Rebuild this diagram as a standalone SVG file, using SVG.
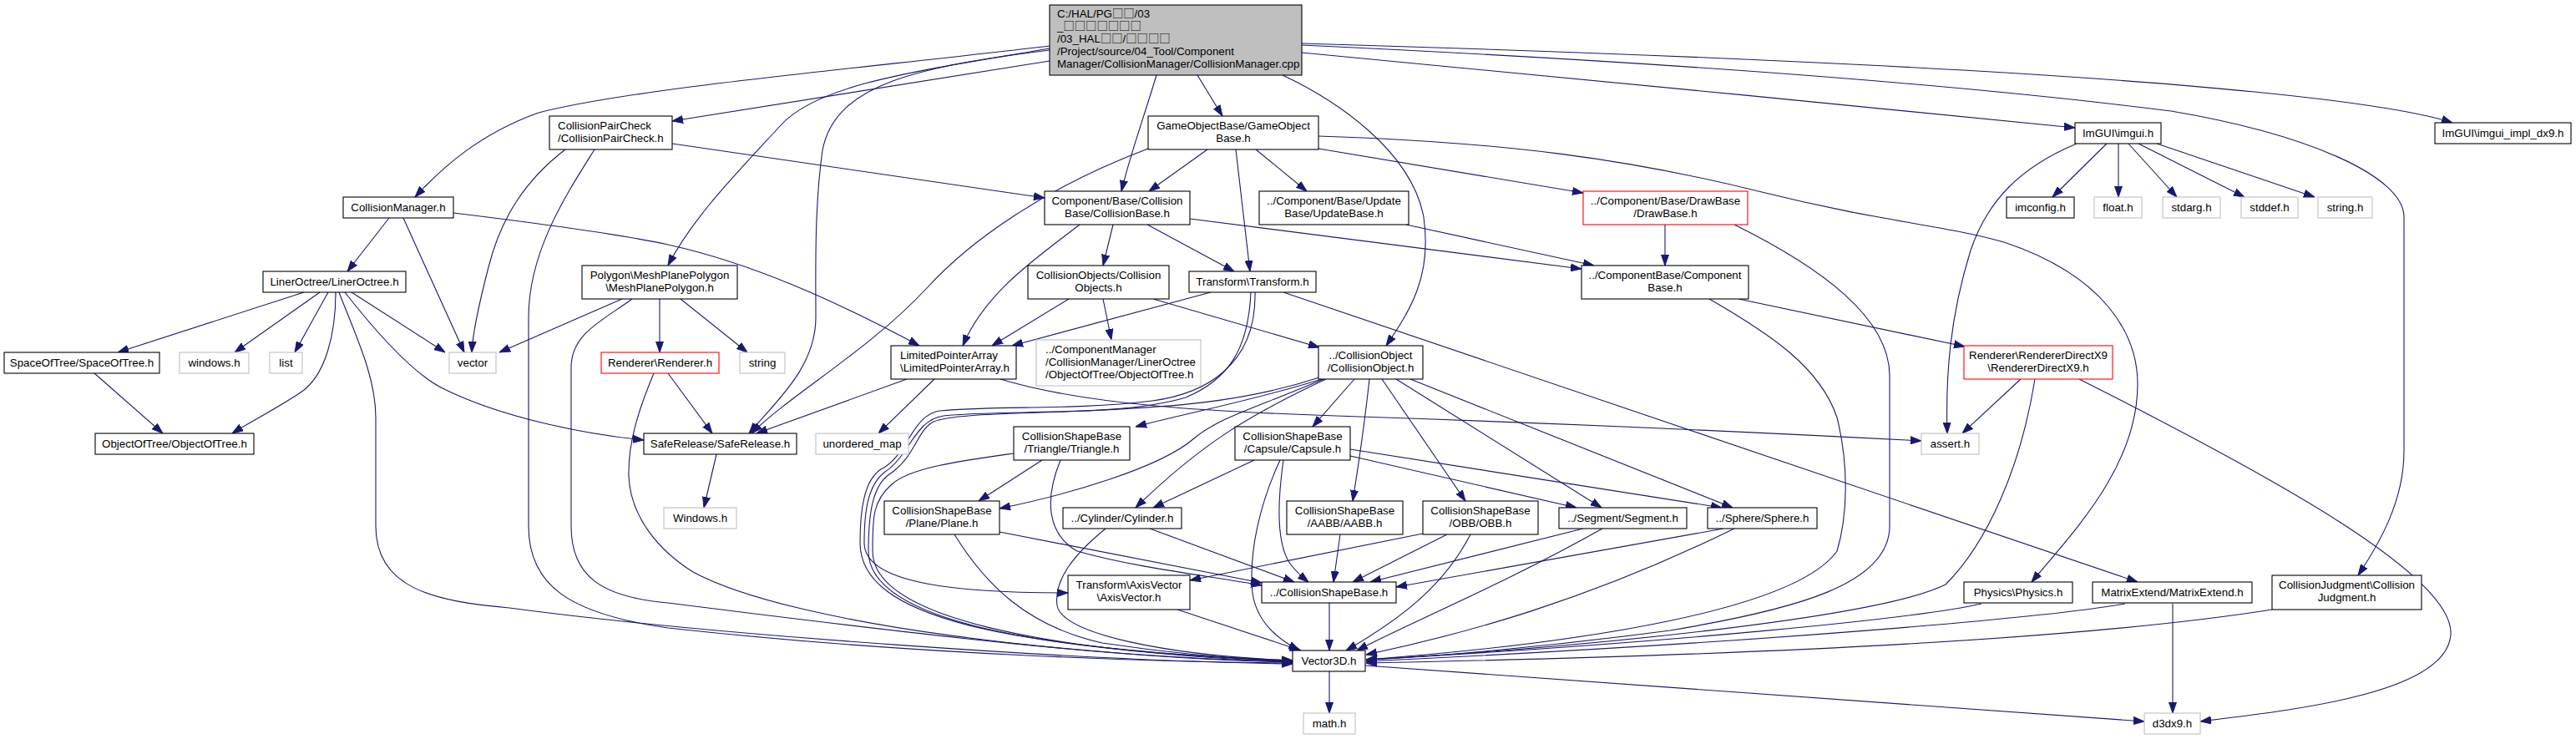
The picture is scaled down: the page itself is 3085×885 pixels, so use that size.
<svg xmlns="http://www.w3.org/2000/svg" width="3085" height="885" viewBox="0 0 3085 885">
<defs>
<style>
.nd rect{fill:#fff;stroke:#000;stroke-width:1.1}
.nd.gr rect{stroke:#bfbfbf}
.nd.rd rect{stroke:#ff0000}
.nd.rt rect{fill:#bfbfbf}
text{font-family:"Liberation Sans",Arial,"Noto Sans CJK JP",sans-serif;font-size:13.33px;fill:#000}
.c{text-anchor:middle}
.t{font-family:"Noto Sans CJK JP",sans-serif}
.e path{fill:none;stroke:#191970;stroke-width:1.1;marker-end:url(#ah)}
</style>
<marker id="ah" viewBox="0 0 13 10" refX="13" refY="5" markerWidth="13" markerHeight="10" markerUnits="userSpaceOnUse" orient="auto"><path d="M0,0.5 L13,5 L0,9.5 z" fill="#191970" stroke="#191970" stroke-width="1"/></marker>
</defs>
<rect width="3085" height="885" fill="#fff"/>
<g id="edges" class="e">
<path d="M1257,55 C1050,80 760,105 645,135 C575,160 530,200 497,236"/>
<path d="M1257,73 L805,145"/>
<path d="M1257,58 C1100,85 980,100 935,150 C880,210 830,260 800,318"/>
<path d="M1257,60 C1100,80 1000,100 985,180 C975,250 977,330 977,380 C977,440 930,480 897,519"/>
<path d="M1385,90 C1370,140 1352,190 1343,229"/>
<path d="M1434,90 L1464,139"/>
<path d="M1536,90 C1600,120 1690,180 1705,260 C1715,330 1690,370 1660,414"/>
<path d="M1559,63 C1800,85 2200,125 2485,153"/>
<path d="M1559,52 C1900,62 2400,80 2700,110 C2820,122 2900,135 2937,147"/>
<path d="M1559,54 C1900,70 2300,95 2600,133 C2760,160 2879,210 2879,260 L2879,540 C2879,600 2850,650 2824,689"/>
<path d="M805,172 L1251,237"/>
<path d="M677,179 C630,215 600,260 585,320 C572,370 566,400 565,422"/>
<path d="M712,179 C680,230 633,300 633,380 L633,630 C633,700 680,735 800,752 C1100,785 1400,793 1548,794"/>
<path d="M466,261 L416,325"/>
<path d="M483,261 L556,422"/>
<path d="M543,255 C650,268 740,280 800,293 C900,315 1000,360 1101,414"/>
<path d="M364,350 L141,422"/>
<path d="M383,350 L281,422"/>
<path d="M393,350 L353,422"/>
<path d="M402,350 C402,400 390,450 360,470 C330,490 300,505 278,519"/>
<path d="M406,350 C425,400 450,450 450,500 L450,630 C450,705 520,720 610,728 C850,760 1300,792 1548,795"/>
<path d="M413,350 C460,410 500,450 530,465 C600,500 700,520 771,527"/>
<path d="M421,350 L533,422"/>
<path d="M113,447 L195,519"/>
<path d="M745,358 L598,422"/>
<path d="M757,358 C720,385 684,400 684,440 L684,630 C684,690 720,715 800,722 C1100,760 1350,790 1548,793"/>
<path d="M790,358 L790,422"/>
<path d="M815,358 L895,422"/>
<path d="M800,447 L853,519"/>
<path d="M783,447 C765,490 752,530 753,570 C755,620 790,660 830,685 C950,750 1300,788 1548,792"/>
<path d="M858,544 L843,608"/>
<path d="M1086,454 L906,519"/>
<path d="M1119,454 L1052,519"/>
<path d="M1198,454 C1300,485 1450,493 1600,498 C1900,508 2150,520 2301,528"/>
<path d="M1375,178 C1250,225 1160,290 1110,345 C1040,420 950,470 900,519"/>
<path d="M1446,179 L1376,229"/>
<path d="M1480,179 L1497,325"/>
<path d="M1504,179 L1565,229"/>
<path d="M1579,178 L1896,231"/>
<path d="M1579,163 C1800,170 1950,190 2110,230 C2250,265 2330,270 2400,290 C2520,330 2560,400 2560,460 C2560,560 2480,640 2433,697"/>
<path d="M1293,269 C1240,310 1180,350 1153,414"/>
<path d="M1333,269 L1321,318"/>
<path d="M1374,269 L1478,325"/>
<path d="M1425,262 L1894,322"/>
<path d="M1280,358 L1188,414"/>
<path d="M1321,358 L1331,407"/>
<path d="M1381,358 L1580,416"/>
<path d="M1450,350 L1212,414"/>
<path d="M1537,350 L2560,697"/>
<path d="M1498,350 C1495,420 1470,455 1420,476 C1340,500 1200,490 1130,498 C1095,503 1090,545 1060,565 C1040,580 1035,610 1035,650 C1035,700 1150,710 1279,710"/>
<path d="M1503,350 C1505,440 1440,472 1380,480 C1280,492 1200,485 1125,492 C1092,497 1088,545 1055,562 C1035,575 1030,610 1030,650 C1030,740 1200,775 1548,792"/>
<path d="M1580,452 C1480,485 1380,488 1300,492 C1200,496 1140,496 1118,505 C1098,515 1096,548 1065,568 C1045,582 1040,615 1040,660 C1040,745 1250,780 1548,791"/>
<path d="M1583,454 C1500,480 1420,495 1360,511"/>
<path d="M1585,454 C1500,490 1460,500 1430,525 C1390,560 1280,592 1197,609"/>
<path d="M1588,454 C1500,495 1440,530 1360,608"/>
<path d="M1622,454 L1572,511"/>
<path d="M1640,454 C1635,500 1628,550 1620,600"/>
<path d="M1655,454 L1755,600"/>
<path d="M1672,454 L1918,608"/>
<path d="M1689,454 L2075,608"/>
<path d="M1248,551 L1172,600"/>
<path d="M1270,551 C1250,600 1255,640 1290,660 C1360,680 1450,690 1511,701"/>
<path d="M1214,543 C1150,552 1090,560 1068,580 C1045,600 1045,620 1045,660 C1045,740 1250,780 1548,793"/>
<path d="M1197,637 L1511,698"/>
<path d="M1143,640 C1180,700 1230,750 1320,770 C1420,785 1500,790 1548,792"/>
<path d="M1377,633 L1550,697"/>
<path d="M1324,633 C1285,665 1262,695 1266,725 C1272,760 1400,785 1548,791"/>
<path d="M1502,551 L1381,608"/>
<path d="M1533,551 C1510,600 1495,660 1500,710 C1505,745 1530,765 1556,779"/>
<path d="M1537,551 C1530,600 1528,650 1545,675 C1555,688 1562,693 1567,697"/>
<path d="M1617,546 L1888,608"/>
<path d="M1617,538 L2062,608"/>
<path d="M1605,640 L1597,697"/>
<path d="M1704,639 L1425,695"/>
<path d="M1733,640 L1620,697"/>
<path d="M1761,640 C1730,700 1680,740 1612,779"/>
<path d="M1896,633 L1641,697"/>
<path d="M1919,633 C1800,700 1700,740 1625,779"/>
<path d="M2064,633 L1672,703"/>
<path d="M2077,633 C1900,720 1750,760 1636,784"/>
<path d="M1410,730 L1558,779"/>
<path d="M1592,722 L1592,779"/>
<path d="M1592,804 L1592,854"/>
<path d="M1635,797 L2568,864"/>
<path d="M2082,358 L2353,415"/>
<path d="M2047,358 C2120,400 2180,440 2200,500 C2215,560 2212,620 2200,660 C2150,730 1900,770 1636,790"/>
<path d="M1994,269 L1994,318"/>
<path d="M2077,269 C2180,320 2263,380 2263,450 L2263,630 C2263,700 2150,730 2000,755 C1850,775 1700,788 1636,790"/>
<path d="M1684,269 L1909,318"/>
<path d="M2420,454 L2350,519"/>
<path d="M2437,454 C2420,560 2380,650 2330,700 C2250,740 1900,775 1636,790"/>
<path d="M2490,454 C2720,570 2940,690 2935,760 C2930,830 2750,850 2635,864"/>
<path d="M2523,172 L2458,236"/>
<path d="M2537,172 L2537,236"/>
<path d="M2549,172 L2607,236"/>
<path d="M2561,172 L2688,236"/>
<path d="M2583,172 L2772,236"/>
<path d="M2487,172 C2420,200 2380,240 2360,300 C2335,380 2330,450 2332,519"/>
<path d="M2373,723 C2300,740 2000,770 1636,790"/>
<path d="M2545,723 C2450,740 2100,770 1636,792"/>
<path d="M2602,723 L2602,854"/>
<path d="M2721,730 C2500,765 2100,785 1636,794"/>
</g>
<g id="n_root" class="nd rt"><rect x="1257" y="6" width="302" height="84"/>
<text x="1266" y="21">C:/HAL/PG<tspan class="t">□□</tspan>/03</text>
<text x="1266" y="36">_<tspan class="t">□□□□□□□</tspan></text>
<text x="1266" y="51">/03_HAL<tspan class="t">□□</tspan>/<tspan class="t">□□□□</tspan></text>
<text x="1266" y="66">/Project/source/04_Tool/Component</text>
<text x="1266" y="81">Manager/CollisionManager/CollisionManager.cpp</text></g>
<g id="n_cm" class="nd"><rect x="411" y="236" width="132" height="25"/><text class="c" x="477" y="253">CollisionManager.h</text></g>
<g id="n_cpc" class="nd"><rect x="658" y="139" width="147" height="40"/><text x="668" y="155">CollisionPairCheck</text><text x="668" y="170">/CollisionPairCheck.h</text></g>
<g id="n_lo" class="nd"><rect x="315" y="325" width="171" height="25"/><text class="c" x="400.5" y="342">LinerOctree/LinerOctree.h</text></g>
<g id="n_sot" class="nd"><rect x="5" y="422" width="186" height="25"/><text class="c" x="98" y="439">SpaceOfTree/SpaceOfTree.h</text></g>
<g id="n_win" class="nd gr"><rect x="215" y="422" width="83" height="25"/><text class="c" x="256.5" y="439">windows.h</text></g>
<g id="n_list" class="nd gr"><rect x="323" y="422" width="39" height="25"/><text class="c" x="342.5" y="439">list</text></g>
<g id="n_vec" class="nd gr"><rect x="538" y="422" width="56" height="25"/><text class="c" x="566" y="439">vector</text></g>
<g id="n_oot" class="nd"><rect x="114" y="519" width="190" height="25"/><text class="c" x="209" y="536">ObjectOfTree/ObjectOfTree.h</text></g>
<g id="n_mpp" class="nd"><rect x="697" y="318" width="186" height="40"/><text class="c" x="790" y="334">Polygon\MeshPlanePolygon</text><text class="c" x="790" y="349">\MeshPlanePolygon.h</text></g>
<g id="n_ren" class="nd rd"><rect x="720" y="422" width="141" height="25"/><text class="c" x="790.5" y="439">Renderer\Renderer.h</text></g>
<g id="n_str" class="nd gr"><rect x="886" y="422" width="54" height="25"/><text class="c" x="913" y="439">string</text></g>
<g id="n_sr" class="nd"><rect x="771" y="519" width="183" height="25"/><text class="c" x="862.5" y="536">SafeRelease/SafeRelease.h</text></g>
<g id="n_Win" class="nd gr"><rect x="795" y="608" width="87" height="25"/><text class="c" x="838.5" y="625">Windows.h</text></g>
<g id="n_um" class="nd gr"><rect x="977" y="519" width="111" height="25"/><text class="c" x="1032.5" y="536">unordered_map</text></g>
<g id="n_lpa" class="nd"><rect x="1067" y="414" width="150" height="40"/><text x="1078" y="430">LimitedPointerArray</text><text x="1078" y="445">\LimitedPointerArray.h</text></g>
<g id="n_oot2" class="nd gr"><rect x="1241" y="407" width="197" height="55"/><text x="1252" y="423">../ComponentManager</text><text x="1252" y="438">/CollisionManager/LinerOctree</text><text x="1252" y="453">/ObjectOfTree/ObjectOfTree.h</text></g>
<g id="n_gob" class="nd"><rect x="1375" y="139" width="204" height="40"/><text class="c" x="1477" y="155">GameObjectBase/GameObject</text><text class="c" x="1477" y="170">Base.h</text></g>
<g id="n_cb" class="nd"><rect x="1251" y="229" width="174" height="40"/><text class="c" x="1338" y="245">Component/Base/Collision</text><text class="c" x="1338" y="260">Base/CollisionBase.h</text></g>
<g id="n_ub" class="nd"><rect x="1508" y="229" width="179" height="40"/><text class="c" x="1597.5" y="245">../Component/Base/Update</text><text class="c" x="1597.5" y="260">Base/UpdateBase.h</text></g>
<g id="n_db" class="nd rd"><rect x="1896" y="229" width="197" height="40"/><text class="c" x="1994.5" y="245">../Component/Base/DrawBase</text><text class="c" x="1994.5" y="260">/DrawBase.h</text></g>
<g id="n_cos" class="nd"><rect x="1231" y="318" width="169" height="40"/><text class="c" x="1315.5" y="334">CollisionObjects/Collision</text><text class="c" x="1315.5" y="349">Objects.h</text></g>
<g id="n_tr" class="nd"><rect x="1424" y="325" width="152" height="25"/><text class="c" x="1500" y="342">Transform\Transform.h</text></g>
<g id="n_compb" class="nd"><rect x="1894" y="318" width="200" height="40"/><text class="c" x="1994" y="334">../ComponentBase/Component</text><text class="c" x="1994" y="349">Base.h</text></g>
<g id="n_co" class="nd"><rect x="1579" y="414" width="125" height="40"/><text class="c" x="1641.5" y="430">../CollisionObject</text><text class="c" x="1641.5" y="445">/CollisionObject.h</text></g>
<g id="n_rdx" class="nd rd"><rect x="2352" y="414" width="178" height="40"/><text class="c" x="2441" y="430">Renderer\RendererDirectX9</text><text class="c" x="2441" y="445">\RendererDirectX9.h</text></g>
<g id="n_tri" class="nd"><rect x="1214" y="511" width="139" height="40"/><text class="c" x="1283.5" y="527">CollisionShapeBase</text><text class="c" x="1283.5" y="542">/Triangle/Triangle.h</text></g>
<g id="n_cap" class="nd"><rect x="1479" y="511" width="138" height="40"/><text class="c" x="1548" y="527">CollisionShapeBase</text><text class="c" x="1548" y="542">/Capsule/Capsule.h</text></g>
<g id="n_assert" class="nd gr"><rect x="2301" y="519" width="69" height="25"/><text class="c" x="2335.5" y="536">assert.h</text></g>
<g id="n_plane" class="nd"><rect x="1059" y="600" width="138" height="40"/><text class="c" x="1128" y="616">CollisionShapeBase</text><text class="c" x="1128" y="631">/Plane/Plane.h</text></g>
<g id="n_cyl" class="nd"><rect x="1273" y="608" width="142" height="25"/><text class="c" x="1344" y="625">../Cylinder/Cylinder.h</text></g>
<g id="n_aabb" class="nd"><rect x="1541" y="600" width="139" height="40"/><text class="c" x="1610.5" y="616">CollisionShapeBase</text><text class="c" x="1610.5" y="631">/AABB/AABB.h</text></g>
<g id="n_obb" class="nd"><rect x="1704" y="600" width="138" height="40"/><text class="c" x="1773" y="616">CollisionShapeBase</text><text class="c" x="1773" y="631">/OBB/OBB.h</text></g>
<g id="n_seg" class="nd"><rect x="1867" y="608" width="153" height="25"/><text class="c" x="1943.5" y="625">../Segment/Segment.h</text></g>
<g id="n_sph" class="nd"><rect x="2045" y="608" width="131" height="25"/><text class="c" x="2110.5" y="625">../Sphere/Sphere.h</text></g>
<g id="n_av" class="nd"><rect x="1279" y="689" width="146" height="41"/><text class="c" x="1352" y="705">Transform\AxisVector</text><text class="c" x="1352" y="720">\AxisVector.h</text></g>
<g id="n_csb" class="nd"><rect x="1511" y="697" width="161" height="25"/><text class="c" x="1591.5" y="714">../CollisionShapeBase.h</text></g>
<g id="n_phy" class="nd"><rect x="2352" y="697" width="130" height="25"/><text class="c" x="2417" y="714">Physics\Physics.h</text></g>
<g id="n_me" class="nd"><rect x="2506" y="697" width="191" height="25"/><text class="c" x="2601.5" y="714">MatrixExtend/MatrixExtend.h</text></g>
<g id="n_cj" class="nd"><rect x="2721" y="689" width="179" height="41"/><text class="c" x="2810.5" y="705">CollisionJudgment\Collision</text><text class="c" x="2810.5" y="720">Judgment.h</text></g>
<g id="n_v3" class="nd"><rect x="1548" y="779" width="87" height="25"/><text class="c" x="1591.5" y="796">Vector3D.h</text></g>
<g id="n_math" class="nd gr"><rect x="1561" y="854" width="62" height="25"/><text class="c" x="1592" y="871">math.h</text></g>
<g id="n_d3" class="nd gr"><rect x="2568" y="854" width="67" height="25"/><text class="c" x="2601.5" y="871">d3dx9.h</text></g>
<g id="n_img" class="nd"><rect x="2485" y="147" width="103" height="25"/><text class="c" x="2536.5" y="164">ImGUI\imgui.h</text></g>
<g id="n_impl" class="nd"><rect x="2916" y="147" width="163" height="25"/><text class="c" x="2997.5" y="164">ImGUI\imgui_impl_dx9.h</text></g>
<g id="n_imc" class="nd"><rect x="2403" y="236" width="81" height="25"/><text class="c" x="2443.5" y="253">imconfig.h</text></g>
<g id="n_float" class="nd gr"><rect x="2508" y="236" width="57" height="25"/><text class="c" x="2536.5" y="253">float.h</text></g>
<g id="n_stdarg" class="nd gr"><rect x="2590" y="236" width="69" height="25"/><text class="c" x="2624.5" y="253">stdarg.h</text></g>
<g id="n_stddef" class="nd gr"><rect x="2684" y="236" width="68" height="25"/><text class="c" x="2718" y="253">stddef.h</text></g>
<g id="n_strh" class="nd gr"><rect x="2776" y="236" width="65" height="25"/><text class="c" x="2808.5" y="253">string.h</text></g>
</svg>
